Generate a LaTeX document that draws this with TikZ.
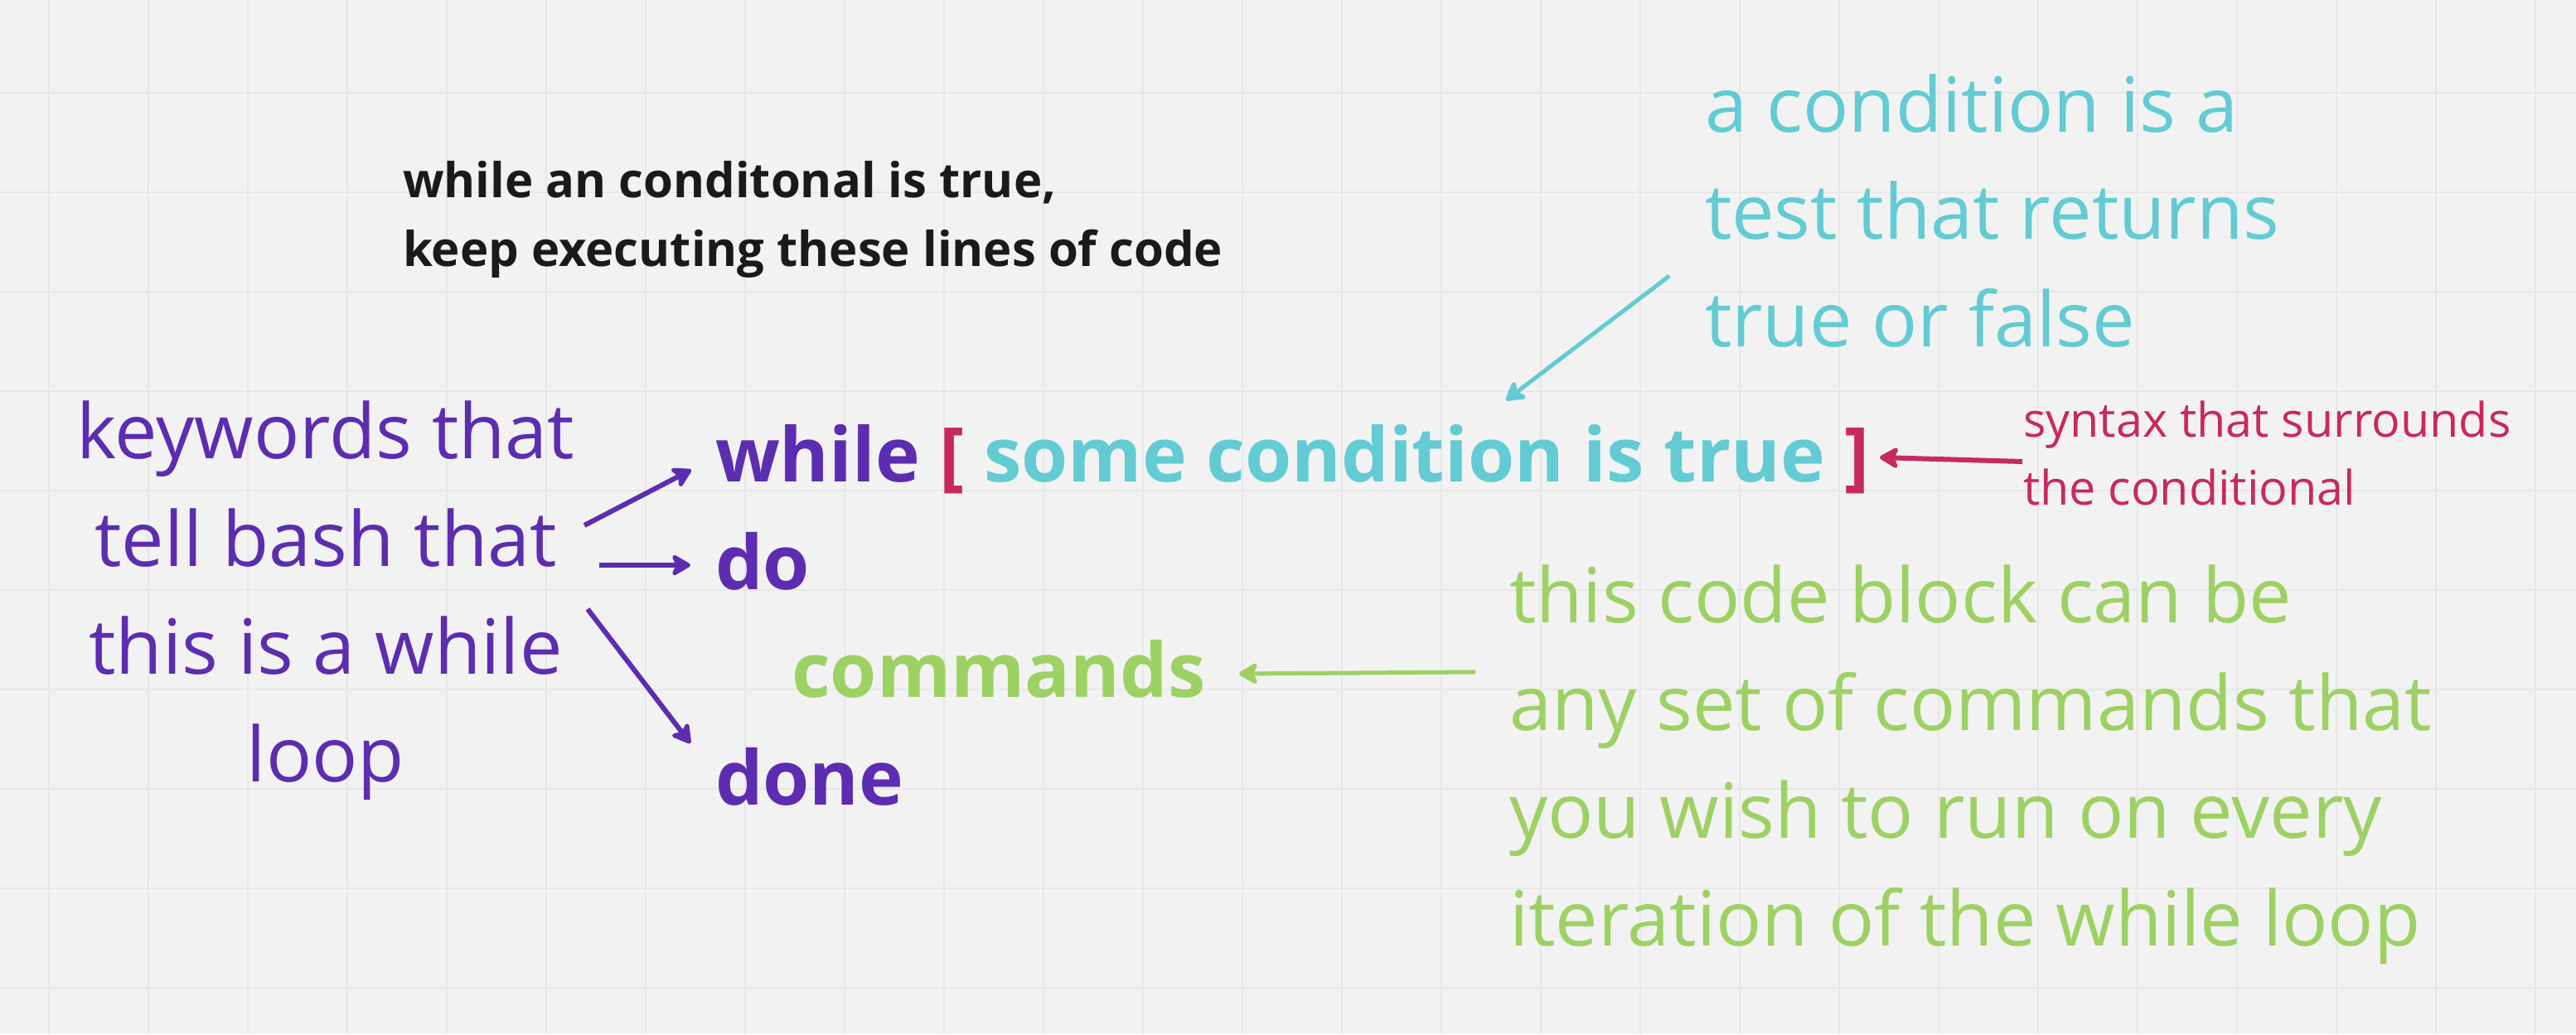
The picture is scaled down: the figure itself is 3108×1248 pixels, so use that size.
\documentclass[tikz,border=0pt]{standalone}
\usepackage{fontspec}
\setmainfont{Open Sans}
\usetikzlibrary{arrows.meta}
\definecolor{bg}{HTML}{F2F2F2}
\definecolor{gridc}{HTML}{E7E7E7}
\definecolor{kwpurple}{HTML}{5C2DB0}
\definecolor{condcyan}{HTML}{62CBD3}
\definecolor{synmag}{HTML}{C8295F}
\definecolor{cmdgreen}{HTML}{9DD163}
\definecolor{inkblack}{HTML}{1A1A1A}
\begin{document}
\begin{tikzpicture}[x=1pt,y=-1pt,
  txt/.style={inner sep=0pt, outer sep=0pt, anchor=base west},
  ctxt/.style={inner sep=0pt, outer sep=0pt, anchor=base},
  big/.style={font=\fontsize{91.8}{130}\selectfont},
  bigbold/.style={font=\fontsize{91}{130}\selectfont\bfseries},
  small/.style={font=\fontsize{57.5}{82}\selectfont},
  smallbold/.style={font=\fontsize{58}{83}\selectfont\bfseries},
  arrowline/.style={-{Stealth[length=27pt,width=31pt,inset=7pt,round]}},
]
\fill[bg] (0,0) rectangle (3108,1248);
\useasboundingbox (0,0) rectangle (3108,1248);
\foreach \i in {0,...,25} \draw[gridc, line width=2pt] (59+120*\i,0) -- (59+120*\i,1248);
\foreach \j in {0,...,9} \draw[gridc, line width=2pt] (0,112+120*\j) -- (3108,112+120*\j);

% top note
\node[txt, smallbold, text=inkblack] (note1) at (486,238) {while an conditonal is true,};
\node[txt, smallbold, text=inkblack] (note2) at (486,321) {keep executing these lines of code};

% keywords explanation
\node[ctxt, big, text=kwpurple] (kw1) at (393,553) {keywords that};
\node[ctxt, big, text=kwpurple] (kw2) at (393,683) {tell bash that};
\node[ctxt, big, text=kwpurple] (kw3) at (393,813) {this is a while};
\node[ctxt, big, text=kwpurple] (kw4) at (393,943) {loop};

% code
\node[txt, bigbold, text=kwpurple] (whileln) at (863,581) {while \textcolor{synmag}{[} \textcolor{condcyan}{some condition is true} \textcolor{synmag}{]}};
\node[txt, bigbold, text=kwpurple] (doln) at (863,711) {do};
\node[txt, bigbold, text=cmdgreen] (cmds) at (955,841) {commands};
\node[txt, bigbold, text=kwpurple] (doneln) at (863,971) {done};

% condition explanation
\node[txt, big, text=condcyan] (c1) at (2057,159) {a condition is a};
\node[txt, big, text=condcyan] (c2) at (2057,288) {test that returns};
\node[txt, big, text=condcyan] (c3) at (2057,418) {true or false};

% syntax explanation
\node[txt, small, text=synmag] (s1) at (2441,527) {syntax that surrounds};
\node[txt, small, text=synmag] (s2) at (2441,609) {the conditional};

% code block explanation
\node[txt, big, text=cmdgreen] (g1) at (1821,751) {this code block can be};
\node[txt, big, text=cmdgreen] (g2) at (1821,881) {any set of commands that};
\node[txt, big, text=cmdgreen] (g3) at (1821,1011) {you wish to run on every};
\node[txt, big, text=cmdgreen] (g4) at (1821,1141) {iteration of the while loop};

% arrow ends
\coordinate (a1s) at (705,634);  \coordinate (a1e) at (834,567);
\coordinate (a2s) at (723,682);  \coordinate (a2e) at (833,682);
\coordinate (a3s) at (709,735);  \coordinate (a3e) at (833,897);
\coordinate (cs) at (2014,333);  \coordinate (ce) at (1817,483);
\coordinate (ms) at (2440,557);  \coordinate (me) at (2268,552);
\coordinate (gs) at (1780,811);  \coordinate (ge) at (1495,813);

\draw[arrowline, kwpurple, line width=6pt] (a1s) -- (a1e);
\draw[arrowline, kwpurple, line width=6pt] (a2s) -- (a2e);
\draw[arrowline, kwpurple, line width=6pt] (a3s) -- (a3e);
\draw[arrowline, condcyan, line width=5pt] (cs) -- (ce);
\draw[arrowline, synmag, line width=6pt] (ms) -- (me);
\draw[arrowline, cmdgreen, line width=5pt] (gs) -- (ge);
\end{tikzpicture}
\end{document}
